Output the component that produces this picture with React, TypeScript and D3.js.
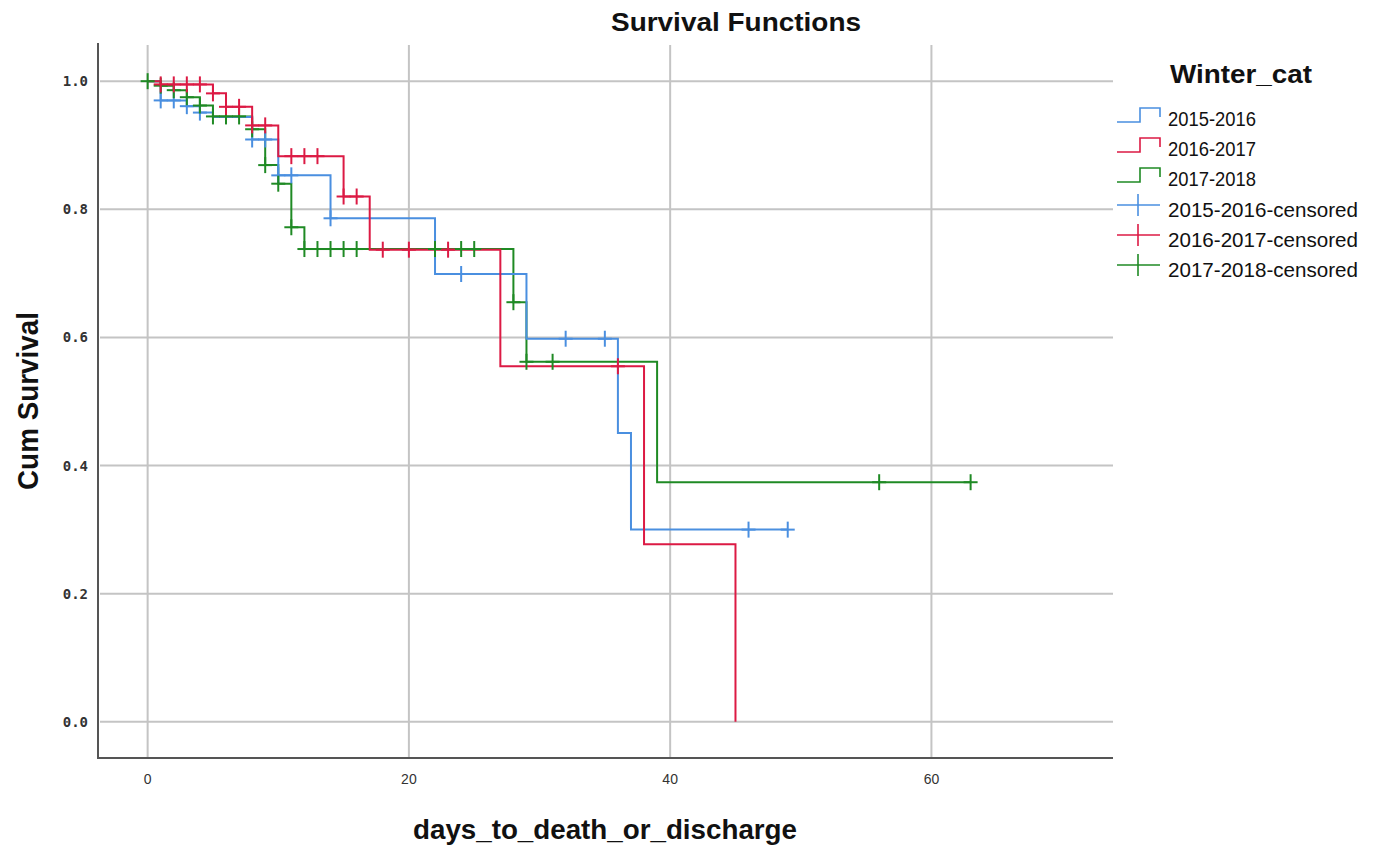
import React from 'react';
import * as d3 from 'd3';

// ---- data ----
const seriesNames = ['2015-2016', '2016-2017', '2017-2018'];
const seriesColors = ['#4a8fe0', '#dc1a44', '#1f8a24'];

// step points: time of each drop, survival after it
const blueTimes = [0, 1, 3, 4, 5, 8, 10, 14, 22, 29, 36, 37, 49];
const blueSurv = [1.0, 0.97, 0.961, 0.951, 0.944, 0.909, 0.853, 0.786, 0.699, 0.598, 0.451, 0.3, 0.3];
const redTimes = [0, 1, 5, 6, 8, 10, 15, 17, 27, 38, 45];
const redSurv = [1.0, 0.995, 0.981, 0.96, 0.931, 0.883, 0.82, 0.737, 0.555, 0.277, 0.0];
const greenTimes = [0, 1, 2, 3, 4, 5, 8, 9, 10, 11, 12, 28, 29, 39, 63];
const greenSurv = [1.0, 0.993, 0.986, 0.975, 0.962, 0.945, 0.925, 0.869, 0.84, 0.772, 0.738, 0.655, 0.562, 0.374, 0.374];

// censored observations
const blueCensTimes = [1, 2, 3, 4, 8, 9, 10, 11, 14, 24, 32, 35, 46, 49];
const blueCensSurv = [0.97, 0.97, 0.961, 0.951, 0.909, 0.909, 0.853, 0.853, 0.786, 0.699, 0.598, 0.598, 0.3, 0.3];
const redCensTimes = [1, 2, 3, 4, 5, 6, 7, 8, 9, 11, 12, 13, 15, 16, 18, 20, 23, 36];
const redCensSurv = [0.995, 0.995, 0.995, 0.995, 0.981, 0.96, 0.96, 0.931, 0.931, 0.883, 0.883, 0.883, 0.82, 0.82, 0.737, 0.737, 0.737, 0.555];
const greenCensTimes = [0, 1, 2, 3, 4, 5, 6, 7, 8, 9, 10, 11, 12, 13, 14, 15, 16, 22, 24, 25, 28, 29, 31, 56, 63];
const greenCensSurv = [1.0, 0.993, 0.986, 0.975, 0.962, 0.945, 0.945, 0.945, 0.925, 0.869, 0.84, 0.772, 0.738, 0.738, 0.738, 0.738, 0.738, 0.738, 0.738, 0.738, 0.655, 0.562, 0.562, 0.374, 0.374];

const xTicks = [0, 20, 40, 60];
const yTicks = [0, 0.2, 0.4, 0.6, 0.8, 1.0];

const W = 1374;
const H = 845;
const plot = { left: 98, right: 1113, top: 45, bottom: 758 };

export default function App() {
  const x = d3.scaleLinear().domain([-3.8, 73.9]).range([plot.left, plot.right]);
  const y = d3.scaleLinear().domain([-0.0565, 1.0565]).range([plot.bottom, plot.top]);

  const step = d3
    .line<[number, number]>()
    .x((d) => x(d[0]))
    .y((d) => y(d[1]))
    .curve(d3.curveStepAfter);

  const lines = [
    { t: blueTimes, s: blueSurv, ct: blueCensTimes, cs: blueCensSurv, c: seriesColors[0] },
    { t: redTimes, s: redSurv, ct: redCensTimes, cs: redCensSurv, c: seriesColors[1] },
    { t: greenTimes, s: greenSurv, ct: greenCensTimes, cs: greenCensSurv, c: seriesColors[2] },
  ];
  const drawOrder = [2, 0, 1];
  const markOrder = [0, 2, 1];

  const legendX = 1117;
  const legendRows = [126, 156, 186, 217, 247, 277];
  const legendLabels = [...seriesNames, ...seriesNames.map((n) => n + '-censored')];

  return (
    <svg width={W} height={H} style={{ position: 'absolute', left: 0, top: 0, background: '#fff' }}>
      {/* title */}
      <text x={736} y={31} textAnchor="middle" fontFamily="Liberation Sans, Arial, sans-serif" fontWeight="bold" fontSize={26} textLength={250} lengthAdjust="spacingAndGlyphs" fill="#111">
        Survival Functions
      </text>

      {/* grid */}
      <g stroke="#c4c4c4" strokeWidth={2}>
        {yTicks.map((v) => (
          <line key={'gy' + v} x1={plot.left + 2} x2={plot.right} y1={y(v)} y2={y(v)} />
        ))}
        {xTicks.map((v) => (
          <line key={'gx' + v} x1={x(v)} x2={x(v)} y1={plot.top} y2={plot.bottom} />
        ))}
      </g>

      {/* axes */}
      <g stroke="#555" strokeWidth={2}>
        <line x1={plot.left} x2={plot.left} y1={plot.top - 2} y2={plot.bottom + 1} />
        <line x1={plot.left} x2={plot.right} y1={plot.bottom} y2={plot.bottom} />
      </g>

      {/* tick labels */}
      <g fontFamily="DejaVu Sans Mono, monospace" fontSize={14} fontWeight="bold" fill="#333">
        {yTicks.map((v) => (
          <text key={'ty' + v} x={88} y={y(v) + 5} textAnchor="end">
            {v.toFixed(1)}
          </text>
        ))}
      </g>
      <g fontFamily="Liberation Sans, Arial, sans-serif" fontSize={14} fill="#333">
        {xTicks.map((v) => (
          <text key={'tx' + v} x={x(v)} y={784} textAnchor="middle">
            {v}
          </text>
        ))}
      </g>

      {/* axis titles */}
      <text transform="translate(38,401) rotate(-90)" textAnchor="middle" fontFamily="Liberation Sans, Arial, sans-serif" fontWeight="bold" fontSize={30} textLength={178} lengthAdjust="spacingAndGlyphs" fill="#111">
        Cum Survival
      </text>
      <text x={605} y={839} textAnchor="middle" fontFamily="Liberation Sans, Arial, sans-serif" fontWeight="bold" fontSize={28} textLength={384} lengthAdjust="spacingAndGlyphs" fill="#111">
        days_to_death_or_discharge
      </text>

      {/* survival steps */}
      {drawOrder.map((i) => {
        const l = lines[i];
        const pts = l.t.map((t, k) => [t, l.s[k]] as [number, number]);
        return <path key={'p' + i} d={step(pts) || ''} fill="none" stroke={l.c} strokeWidth={2} />;
      })}

      {/* censored marks */}
      {markOrder.map((i) => {
        const l = lines[i];
        return (
          <g key={'c' + i} stroke={l.c} strokeWidth={2}>
            {l.ct.map((t, k) => (
              <g key={k}>
                <line x1={x(t)} x2={x(t)} y1={y(l.cs[k]) - 8} y2={y(l.cs[k]) + 8} />
                <line x1={x(t) - 7} x2={x(t) + 7} y1={y(l.cs[k])} y2={y(l.cs[k])} />
              </g>
            ))}
          </g>
        );
      })}

      {/* legend */}
      <text x={1170} y={83} fontFamily="Liberation Sans, Arial, sans-serif" fontWeight="bold" fontSize={26} textLength={142} lengthAdjust="spacingAndGlyphs" fill="#111">
        Winter_cat
      </text>
      {legendLabels.map((lab, k) => {
        const by = legendRows[k];
        const c = seriesColors[k % 3];
        return (
          <g key={'lg' + k}>
            {k < 3 ? (
              <path
                d={`M${legendX},${by - 4}H${legendX + 23}V${by - 18}H${legendX + 43}V${by - 9}`}
                fill="none"
                stroke={c}
                strokeWidth={1.6}
              />
            ) : (
              <g stroke={c} strokeWidth={1.6}>
                <line x1={legendX} x2={legendX + 43} y1={by - 12} y2={by - 12} />
                <line x1={legendX + 21} x2={legendX + 21} y1={by - 23} y2={by - 1} />
              </g>
            )}
            <text x={1168} y={by} fontFamily="Liberation Sans, Arial, sans-serif" fontSize={20} textLength={k < 3 ? 88 : 190} lengthAdjust="spacingAndGlyphs" fill="#111">
              {lab}
            </text>
          </g>
        );
      })}
    </svg>
  );
}
